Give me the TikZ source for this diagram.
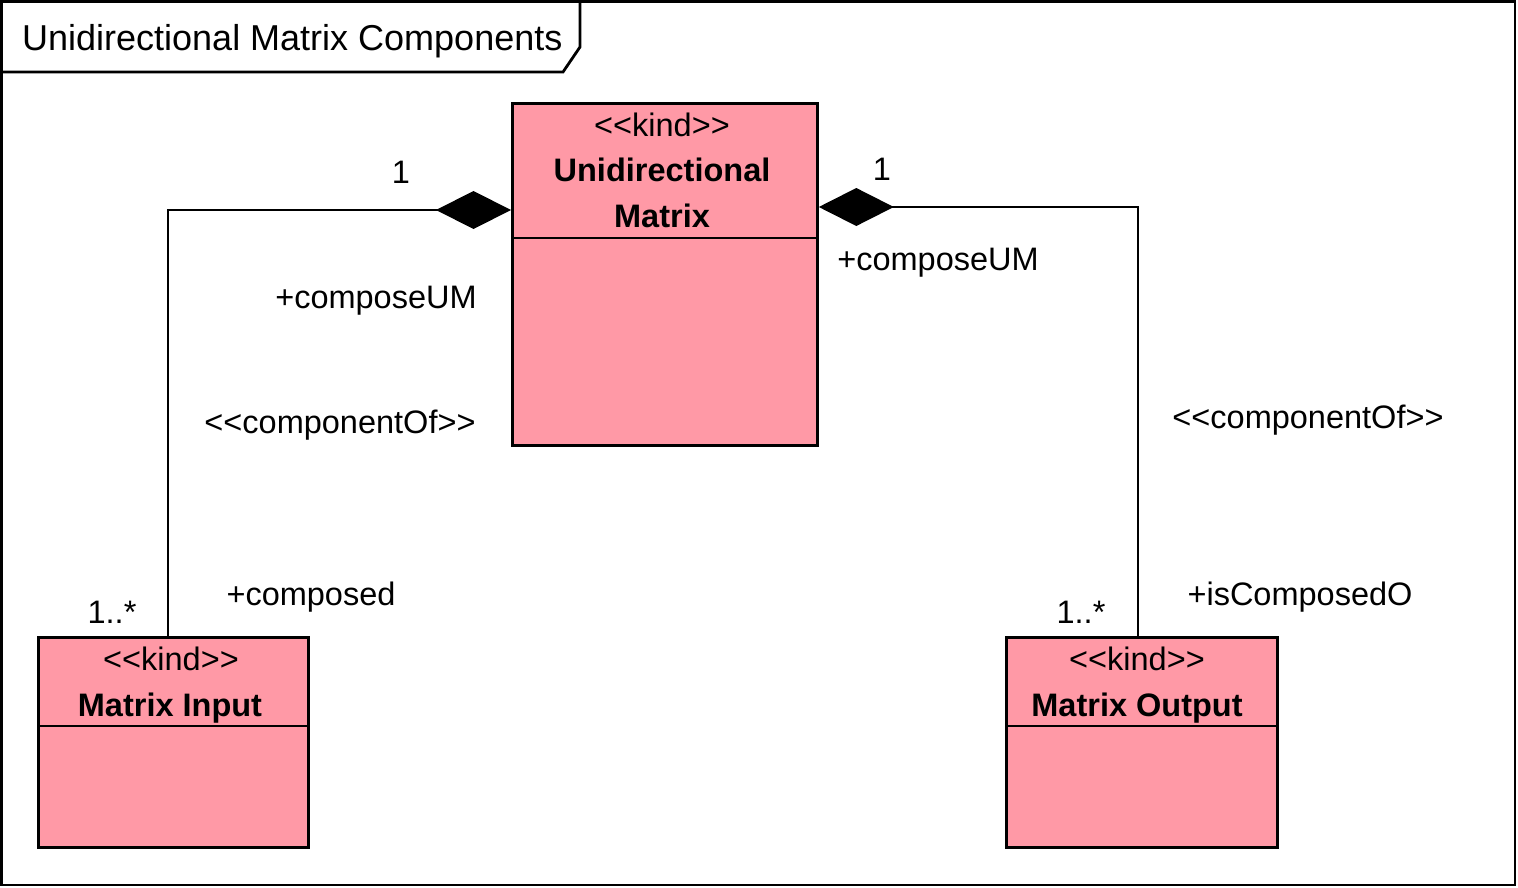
\documentclass[tikz,border=0pt]{standalone}
\usepackage{fontspec}
\setmainfont{Liberation Sans}[Ligatures=TeXOff]
\usetikzlibrary{arrows.meta}
\definecolor{kindpink}{RGB}{255,153,166}
\begin{document}
\begin{tikzpicture}[x=1pt,y=-1pt,
  umlbox/.style={draw=black, line width=2.8pt, fill=kindpink, inner sep=0pt, anchor=north west},
  conn/.style={draw=black, line width=2.8pt},
  lbl/.style={anchor=base, inner sep=0pt, font=\fontsize{32.5}{38}\selectfont},
  bname/.style={anchor=base, inner sep=0pt, font=\fontsize{32.5}{38}\selectfont\bfseries},
  comp/.style={conn, {Diamond[length=75pt,width=38pt]}-}
]
\useasboundingbox (0,0) rectangle (1518,888);
\fill[white] (0,0) rectangle (1518,888);
% frame
\draw[conn] (1.5,1.5) rectangle (1515,885);
\draw[conn] (1.5,72) -- (563,72) -- (580,47) -- (580,1.5);
\node[anchor=base west, inner sep=0pt, font=\fontsize{36}{42}\selectfont] (title) at (22,51) {Unidirectional Matrix Components};

% boxes
\node[umlbox, minimum width=305pt, minimum height=342pt] (um) at (511,102) {};
\coordinate (umdiv) at (0,238);
\draw[conn] (um.west |- umdiv) -- (um.east |- umdiv);
\node[lbl] (umk) at (662,137) {<<kind>>};
\node[bname] (umn1) at (662,182) {Unidirectional};
\node[bname] (umn2) at (662,227) {Matrix};

\node[umlbox, minimum width=270pt, minimum height=210pt] (mi) at (37,636) {};
\coordinate (midiv) at (0,726);
\draw[conn] (mi.west |- midiv) -- (mi.east |- midiv);
\node[lbl] (mik) at (171,670) {<<kind>>};
\node[bname] (min) at (170,716) {Matrix Input};

\node[umlbox, minimum width=271pt, minimum height=210pt] (mo) at (1005,636) {};
\coordinate (modiv) at (0,726);
\draw[conn] (mo.west |- modiv) -- (mo.east |- modiv);
\node[lbl] (mok) at (1137,670) {<<kind>>};
\node[bname] (mon) at (1137,716) {Matrix Output};

% connectors
\coordinate (lbend) at (168,210);
\draw[comp] (um.west |- lbend) -- (lbend) -- (lbend |- mi.north);
\coordinate (rbend) at (1138,207);
\draw[comp] (um.east |- rbend) -- (rbend) -- (rbend |- mo.north);

% labels left
\node[lbl] (l1) at (401,183) {1};
\node[lbl] (lrole) at (376,308) {+composeUM};
\node[lbl] (lst) at (340,433) {<<componentOf>>};
\node[lbl] (lmult) at (112,623) {1..*};
\node[lbl] (lrole2) at (311,605) {+composed};

% labels right
\node[lbl] (r1) at (882,180) {1};
\node[lbl] (rrole) at (938,270) {+composeUM};
\node[lbl] (rst) at (1308,428) {<<componentOf>>};
\node[lbl] (rmult) at (1081,623) {1..*};
\node[lbl] (rrole2) at (1300,605) {+isComposedO};
\end{tikzpicture}
\end{document}
